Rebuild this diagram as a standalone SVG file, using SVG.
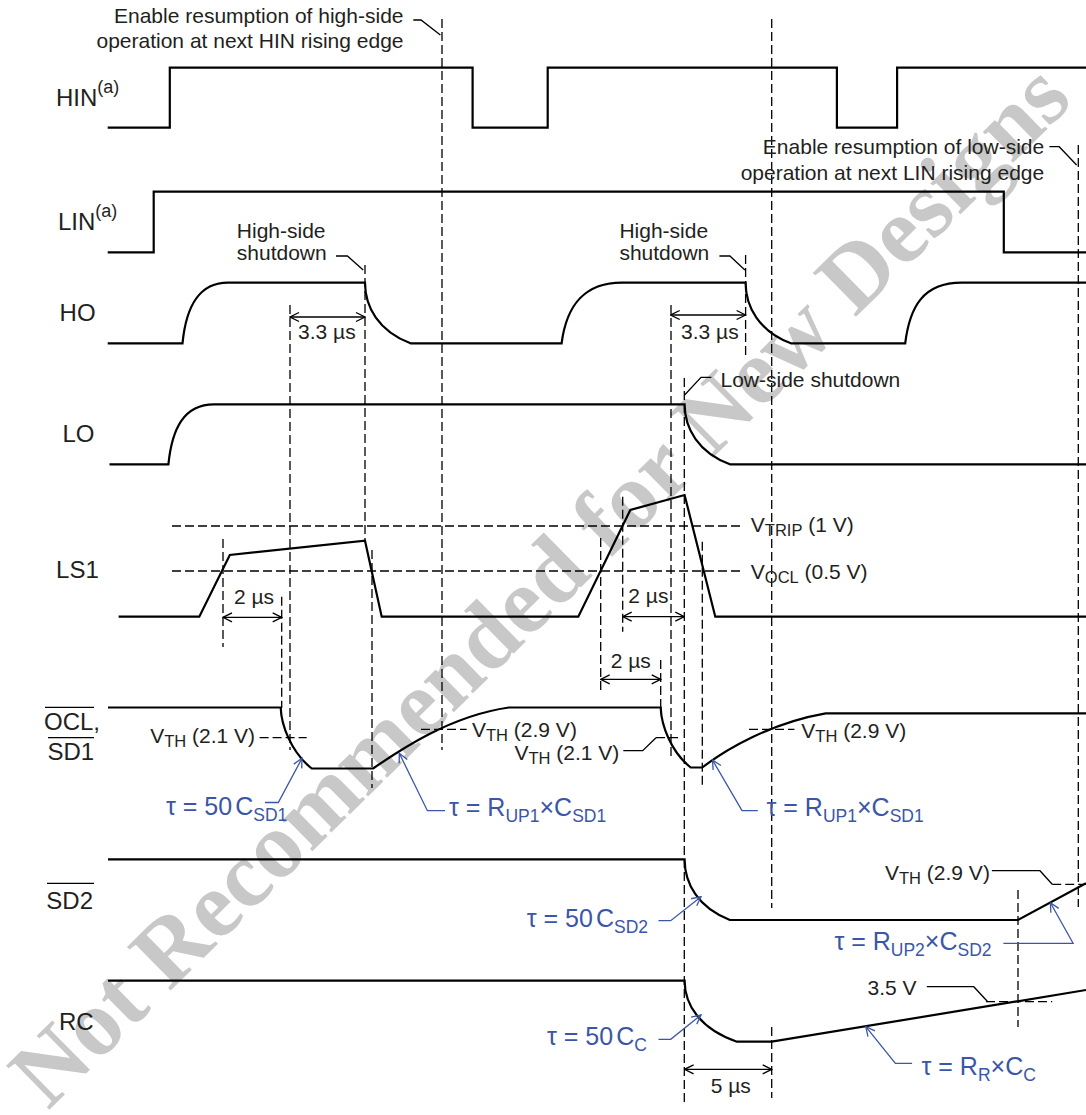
<svg xmlns="http://www.w3.org/2000/svg" width="1086" height="1115" viewBox="0 0 1086 1115">
<style>
.w{fill:none;stroke:#000;stroke-width:2.2;stroke-linejoin:miter}
.d{fill:none;stroke:#000;stroke-width:1.3;stroke-dasharray:9 4}
.l{fill:none;stroke:#000;stroke-width:1.3}
.b{fill:none;stroke:#3B56A6;stroke-width:1.3}
.t{font-family:"Liberation Sans",Arial,sans-serif;font-size:21px;fill:#231f20}
.s{font-size:16.5px}
.lab{font-family:"Liberation Sans",Arial,sans-serif;font-size:24px;fill:#231f20}
.bt{font-family:"Liberation Sans",Arial,sans-serif;font-size:25px;fill:#3B56A6}
.bs{font-size:17.5px}
.wm{font-family:"Liberation Serif","Times New Roman",serif;font-weight:bold;font-size:94px;fill:#c8c8c8}
</style>
<defs>
<marker id="ah" viewBox="-11 -6 12 12" refX="0" refY="0" markerWidth="12" markerHeight="12" markerUnits="userSpaceOnUse" orient="auto-start-reverse"><path d="M-9,-4.5 L0,0 L-9,4.5" fill="none" stroke="#000" stroke-width="1.3"/></marker>
<marker id="bh" viewBox="-11 -6 12 12" refX="0" refY="0" markerWidth="12" markerHeight="12" markerUnits="userSpaceOnUse" orient="auto"><path d="M-9,-4.5 L0,0 L-9,4.5" fill="none" stroke="#3B56A6" stroke-width="1.3"/></marker>
</defs>
<rect width="1086" height="1115" fill="#fff"/>
<text class="wm" x="48" y="1111" transform="rotate(-44.5 48 1111)">Not Recommended for New Designs</text>

<g id="guides">
<path class="d" d="M223,539V647 M281.7,596.7V708 M290,305V750 M365,265V541 M372,550V788 M442,19V750 M600.7,538V690 M622.7,496.7V631.7 M660.7,660V708 M671,305V758 M684.3,378V1103 M702.3,541.7V788 M745.6,255V357 M771.7,19V908 M771.7,1027V1098 M1018,890V1027 M1078.3,145V907"/>
<path class="d" d="M172,526H743.8 M172,571H740.3 M259.6,737.7H306.7 M421,729.3H466.7 M656,737.7H681 M749,729.3H794.4 M1052.2,884.3H1086 M986,1001.7H1052.2"/>
</g>

<g id="HIN">
<text class="lab" x="56" y="106">HIN<tspan font-size="18" dy="-13">(a)</tspan></text>
<path class="w" d="M107.7,127.7H169.8V67.7H472.6V127.7H547.7V67.7H836.9V127.7H897.1V67.7H1086"/>
</g>
<g id="LIN">
<text class="lab" x="58" y="230">LIN<tspan font-size="18" dy="-13.5">(a)</tspan></text>
<path class="w" d="M107.7,252.3H153.7V191.7H1003.8V252.3H1086"/>
</g>
<g id="HO">
<text class="lab" x="59.6" y="320.7">HO</text>
<path class="w" d="M107.7,343.3H182.5C186.1,307 198.4,282.7 228,282.7H365C365,307 378.7,331.2 410.5,343.3H561.6C566.4,307 582.7,282.7 621.9,282.7H745.6C745.6,307 759.2,331.2 790.9,343.3H905.2C909.7,307 923,282.7 961.6,282.7H1086"/>
</g>
<g id="LO">
<text class="lab" x="62.5" y="441.7">LO</text>
<path class="w" d="M109.5,464.3H168.4C172,428.3 184,404.3 214,404.3H684.6C684.6,428.3 698.2,452.3 729.9,464.3H1086"/>
</g>
<g id="LS1">
<text class="lab" x="56.1" y="578.3">LS1</text>
<path class="w" d="M118.6,616.7H199.3L229.8,555L365,540.7L381.7,616.7H578.3L630.3,510L684.6,495L715.3,616.7H1086"/>
</g>
<g id="OCL_SD1">
<text class="lab" x="44" y="730">OCL,</text>
<text class="lab" x="47.4" y="760">SD1</text>
<path class="l" d="M45,707.3H94 M48,737.7H94" stroke-width="1.8"/>
<path class="w" d="M108,707.5H280.7C281.2,725 291,752 311.7,768.5H373C400,750 450,716 508.8,707.5H660.7C661.2,725 671,752 690.7,767.5H702.3C725,750 770,723 825.7,713.3H1086"/>
</g>
<g id="SD2">
<text class="lab" x="46.3" y="909.3">SD2</text>
<path class="l" d="M47,883.3H94" stroke-width="1.8"/>
<path class="w" d="M108,859.3H684.6C684.6,883.6 698.2,907.9 729.9,920H1018L1086,883.3"/>
</g>
<g id="RC">
<text class="lab" x="59" y="1030">RC</text>
<path class="w" d="M108,980.7H684.6C684.6,1005 700.3,1029 736.9,1041.7H771.7L1086,990"/>
</g>

<g id="annotations">
<text class="t" x="403.5" y="23.3" text-anchor="end">Enable resumption of high-side</text>
<text class="t" x="403.5" y="48.3" text-anchor="end">operation at next HIN rising edge</text>
<text class="t" x="1044.2" y="154" text-anchor="end">Enable resumption of low-side</text>
<text class="t" x="1044.2" y="180" text-anchor="end">operation at next LIN rising edge</text>
<text class="t" x="236.8" y="238">High-side</text>
<text class="t" x="236.8" y="260">shutdown</text>
<text class="t" x="619.4" y="238">High-side</text>
<text class="t" x="619.4" y="260">shutdown</text>
<text class="t" x="720.5" y="386.7">Low-side shutdown</text>
<text class="t" x="298" y="339.3">3.3 µs</text>
<text class="t" x="681" y="339.3">3.3 µs</text>
<text class="t" x="750.8" y="531.7">V<tspan class="s" dy="4">TRIP</tspan><tspan dy="-4"> (1 V)</tspan></text>
<text class="t" x="750.8" y="579.3">V<tspan class="s" dy="4">OCL</tspan><tspan dy="-4"> (0.5 V)</tspan></text>
<text class="t" x="234" y="604.3">2 µs</text>
<text class="t" x="628.3" y="602.7">2 µs</text>
<text class="t" x="610.7" y="668.3">2 µs</text>
<text class="t" x="150.2" y="743.3">V<tspan class="s" dy="4">TH</tspan><tspan dy="-4"> (2.1 V)</tspan></text>
<text class="t" x="472" y="736.7">V<tspan class="s" dy="4">TH</tspan><tspan dy="-4"> (2.9 V)</tspan></text>
<text class="t" x="619.3" y="760" text-anchor="end">V<tspan class="s" dy="4">TH</tspan><tspan dy="-4"> (2.1 V)</tspan></text>
<text class="t" x="801.3" y="738.3">V<tspan class="s" dy="4">TH</tspan><tspan dy="-4"> (2.9 V)</tspan></text>
<text class="t" x="885" y="880">V<tspan class="s" dy="4">TH</tspan><tspan dy="-4"> (2.9 V)</tspan></text>
<text class="t" x="867.5" y="995">3.5 V</text>
<text class="t" x="710.7" y="1093.3">5 µs</text>
<text class="bt" x="166" y="815">τ = 50<tspan dx="3">C</tspan><tspan class="bs" dy="6">SD1</tspan></text>
<text class="bt" x="449" y="816">τ = R<tspan class="bs" dy="6">UP1</tspan><tspan dy="-6">×C</tspan><tspan class="bs" dy="6">SD1</tspan></text>
<text class="bt" x="766.5" y="816">τ = R<tspan class="bs" dy="6">UP1</tspan><tspan dy="-6">×C</tspan><tspan class="bs" dy="6">SD1</tspan></text>
<text class="bt" x="648" y="926.7" text-anchor="end">τ = 50<tspan dx="3">C</tspan><tspan class="bs" dy="6">SD2</tspan></text>
<text class="bt" x="834.4" y="950">τ = R<tspan class="bs" dy="6">UP2</tspan><tspan dy="-6">×C</tspan><tspan class="bs" dy="6">SD2</tspan></text>
<text class="bt" x="547" y="1045">τ = 50<tspan dx="3">C</tspan><tspan class="bs" dy="6">C</tspan></text>
<text class="bt" x="921.5" y="1075">τ = R<tspan class="bs" dy="6">R</tspan><tspan dy="-6">×C</tspan><tspan class="bs" dy="6">C</tspan></text>
</g>

<g id="connectors">
<path class="l" d="M413.3,20H421L440.4,35 M1049.4,146.7H1059.2L1076.6,165 M336,256H347.4L363.2,270 M719.4,256H729.9L744.9,270 M711.4,377.3H701L684.6,395 M623.3,750.7H642.7L656,737.7 M991.9,870.7H1040L1052.2,884.3 M926.8,986.7H973.8L987.7,1001.7"/>
<path class="l" marker-start="url(#ah)" marker-end="url(#ah)" d="M290,317H365"/>
<path class="l" marker-start="url(#ah)" marker-end="url(#ah)" d="M670.7,315H745.6"/>
<path class="l" marker-start="url(#ah)" marker-end="url(#ah)" d="M223,617.3H281.7"/>
<path class="l" marker-start="url(#ah)" marker-end="url(#ah)" d="M622.7,616.7H684.3"/>
<path class="l" marker-start="url(#ah)" marker-end="url(#ah)" d="M600.7,679.3H660.7"/>
<path class="l" marker-start="url(#ah)" marker-end="url(#ah)" d="M684.6,1069.3H771.7"/>
<path class="b" marker-end="url(#bh)" d="M265,802.5H278.3L302,758.3"/>
<path class="b" marker-end="url(#bh)" d="M445,810.7H427.4L399.3,753.3"/>
<path class="b" marker-end="url(#bh)" d="M757.8,810.7H742L712.5,760"/>
<path class="b" marker-end="url(#bh)" d="M658.5,920.7H670.7L701,896.7"/>
<path class="b" marker-end="url(#bh)" d="M1003.4,943.3H1073.1L1050.4,902.7"/>
<path class="b" marker-end="url(#bh)" d="M658.5,1039.3H670.7L701,1015"/>
<path class="b" marker-end="url(#bh)" d="M912.1,1063.3H895.4L865.8,1026.7"/>
</g>
</svg>
